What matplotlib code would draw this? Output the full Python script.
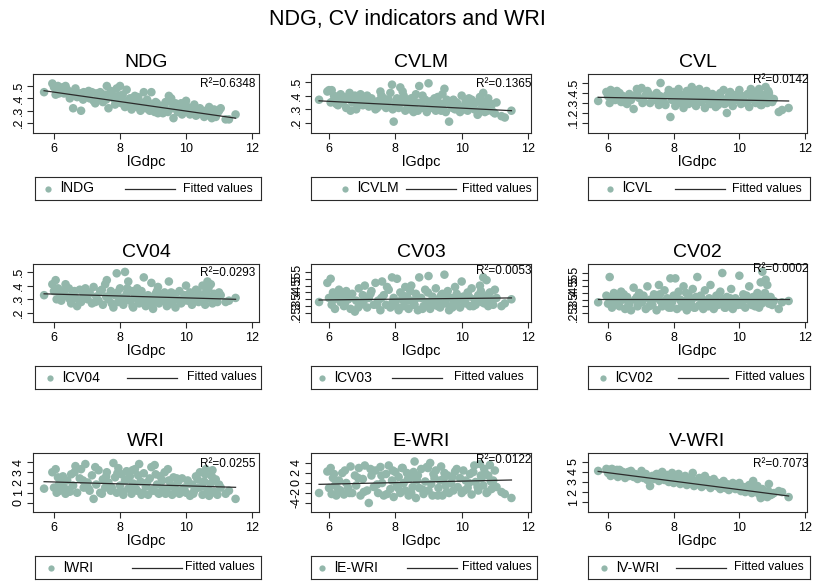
import matplotlib.pyplot as plt

plt.rcParams['font.family'] = ['Liberation Sans', 'DejaVu Sans']

# log GDP per capita, shared x for every panel
lgdpc = [5.70, 5.95, 6.00, 6.05, 6.08, 6.12, 6.18, 6.22, 6.30, 6.35,
         6.40, 6.45, 6.52, 6.58, 6.65, 6.70, 6.78, 6.82, 6.90, 6.95,
         7.02, 7.08, 7.15, 7.20, 7.28, 7.35, 7.40, 7.48, 7.55, 7.60,
         7.65, 7.72, 7.80, 7.85, 7.90, 7.95, 8.00, 8.05, 8.10, 8.15,
         8.20, 8.25, 8.30, 8.35, 8.40, 8.45, 8.52, 8.58, 8.62, 8.68,
         8.72, 8.78, 8.85, 8.90, 8.95, 9.00, 9.05, 9.12, 9.18, 9.22,
         9.30, 9.35, 9.42, 9.48, 9.52, 9.58, 9.62, 9.68, 9.75, 9.80,
         9.88, 9.95, 10.00, 10.05, 10.12, 10.18, 10.25, 10.30, 10.38, 10.42,
         10.50, 10.55, 10.60, 10.65, 10.70, 10.75, 10.80, 10.85, 10.90, 10.95,
         11.05, 11.20, 11.30, 11.50,
         6.15, 6.27, 6.48, 6.62, 6.88, 7.05, 7.25, 7.45, 7.58, 7.75,
         7.92, 8.08, 8.22, 8.38, 8.48, 8.55, 8.65, 8.82, 8.98, 9.08,
         9.15, 9.28, 9.38, 9.45, 9.55, 9.72, 9.85, 10.08, 10.22, 10.35,
         10.48, 10.58, 10.68, 10.78, 10.88, 11.00]

lndg = [.45, .52, .49, .43, .47, .50, .46, .48, .44, .50,
        .47, .43, .45, .32, .48, .41, .44, .30, .45, .42,
        .43, .40, .45, .38, .44, .41, .45, .37, .43, .50,
        .32, .46, .40, .35, .48, .42, .50, .36, .38, .33,
        .47, .35, .40, .31, .37, .42, .33, .38, .30, .35,
        .45, .32, .37, .30, .45, .34, .29, .36, .31, .33,
        .28, .35, .30, .42, .38, .32, .24, .36, .29, .34,
        .27, .31, .38, .33, .27, .30, .35, .26, .29, .32,
        .28, .25, .30, .27, .33, .26, .29, .31, .25, .28,
        .32, .23, .23, .27,
        .44, .49, .40, .46, .39, .46, .36, .42, .39, .44,
        .37, .43, .34, .40, .36, .41, .33, .39, .32, .37,
        .28, .33, .37, .29, .40, .31, .36, .29, .32, .27,
        .30, .26, .31, .24, .27, .30]

lcvlm = [.37, .43, .44, .35, .44, .36, .38, .34, .37, .41,
         .35, .39, .31, .38, .29, .35, .40, .30, .36, .41,
         .33, .37, .40, .32, .38, .35, .30, .36, .43, .33,
         .38, .31, .37, .42, .48, .21, .34, .38, .31, .46,
         .35, .40, .29, .37, .33, .30, .38, .34, .41, .29,
         .47, .35, .31, .37, .28, .49, .34, .31, .38, .29,
         .35, .32, .41, .45, .28, .36, .21, .33, .37, .30,
         .34, .28, .40, .32, .36, .29, .33, .37, .30, .35,
         .27, .39, .31, .42, .28, .35, .38, .30, .33, .28,
         .35, .25, .24, .29,
         .40, .33, .37, .42, .33, .39, .36, .31, .40, .34,
         .30, .36, .43, .32, .38, .28, .35, .40, .31, .36,
         .33, .39, .29, .34, .37, .31, .35, .30, .38, .33,
         .26, .36, .32, .29, .34, .27]

lcvl = [.32, .41, .37, .30, .43, .35, .39, .33, .36, .40,
        .31, .37, .34, .29, .39, .33, .24, .37, .41, .35,
        .45, .32, .38, .42, .30, .36, .33, .40, .28, .50,
        .35, .30, .38, .43, .16, .33, .41, .27, .36, .44,
        .31, .38, .25, .35, .42, .29, .37, .33, .40, .27,
        .36, .44, .31, .38, .25, .42, .34, .29, .39, .32,
        .36, .28, .40, .34, .43, .30, .20, .37, .32, .27,
        .38, .33, .43, .29, .36, .31, .39, .26, .34, .41,
        .30, .36, .44, .28, .38, .33, .46, .30, .40, .35,
        .34, .21, .23, .25,
        .37, .42, .31, .36, .44, .30, .39, .34, .37, .28,
        .41, .35, .30, .38, .33, .46, .29, .36, .40, .31,
        .35, .26, .38, .33, .29, .41, .35, .37, .30, .44,
        .33, .39, .28, .35, .42, .31]

lcv04 = [.33, .41, .36, .44, .30, .38, .34, .29, .36, .41,
         .32, .38, .27, .35, .31, .25, .37, .28, .33, .38,
         .30, .35, .27, .39, .32, .29, .36, .26, .41, .44,
         .30, .36, .24, .33, .49, .28, .38, .31, .26, .50,
         .34, .43, .29, .36, .24, .32, .38, .27, .34, .30,
         .46, .25, .33, .29, .42, .23, .31, .36, .27, .33,
         .29, .35, .25, .43, .31, .27, .34, .24, .30, .36,
         .28, .33, .40, .29, .35, .26, .31, .37, .28, .33,
         .40, .29, .35, .43, .31, .41, .27, .34, .30, .28,
         .33, .28, .29, .31,
         .37, .33, .30, .36, .31, .34, .28, .37, .32, .27,
         .35, .30, .38, .25, .33, .29, .36, .31, .27, .34,
         .39, .29, .32, .26, .35, .30, .27, .33, .29, .36,
         .31, .26, .38, .32, .29, .35]

lcv03 = [.33, .47, .36, .50, .31, .40, .28, .37, .42, .33,
         .38, .30, .41, .35, .28, .39, .26, .34, .43, .31,
         .38, .45, .29, .36, .41, .31, .47, .34, .27, .48,
         .38, .31, .42, .29, .51, .36, .33, .50, .27, .40,
         .35, .30, .44, .37, .28, .41, .34, .31, .39, .27,
         .51, .36, .30, .42, .33, .52, .28, .37, .31, .43,
         .35, .29, .39, .53, .32, .41, .27, .36, .31, .44,
         .34, .29, .48, .37, .32, .40, .30, .43, .35, .31,
         .38, .45, .33, .51, .36, .49, .30, .40, .34, .31,
         .36, .30, .32, .35,
         .35, .39, .32, .37, .29, .34, .39, .31, .36, .44,
         .33, .29, .38, .34, .45, .31, .36, .28, .40, .33,
         .35, .30, .38, .32, .36, .29, .39, .33, .37, .30,
         .34, .41, .32, .38, .35, .42]

lcv02 = [.33, .38, .32, .52, .36, .29, .40, .34, .38, .30,
         .41, .35, .28, .37, .32, .27, .44, .35, .30, .40,
         .33, .38, .28, .45, .35, .31, .39, .27, .46, .34,
         .30, .42, .36, .29, .51, .33, .38, .51, .28, .41,
         .35, .30, .45, .34, .27, .39, .32, .43, .29, .37,
         .52, .31, .36, .28, .42, .34, .30, .46, .33, .28,
         .38, .31, .41, .55, .35, .29, .37, .32, .43, .28,
         .36, .31, .53, .34, .39, .29, .35, .45, .31, .37,
         .33, .40, .29, .48, .56, .36, .50, .46, .32, .37,
         .34, .28, .33, .34,
         .36, .33, .39, .31, .37, .34, .30, .36, .39, .33,
         .29, .37, .34, .40, .31, .35, .29, .38, .32, .36,
         .30, .34, .39, .32, .29, .36, .33, .31, .38, .34,
         .30, .36, .32, .40, .35, .31]

lwri = [1.4, 3.0, 1.5, 3.3, 1.0, 2.5, 1.2, 2.0, 1.5, 0.9,
        2.2, 1.3, 2.8, 1.7, 3.6, 1.0, 2.4, 3.3, 1.5, 3.8,
        2.0, 1.2, 2.7, 0.4, 1.8, 3.2, 1.0, 2.3, 1.5, 3.0,
        2.0, 1.2, 3.9, 2.5, 1.0, 3.4, 1.7, 2.8, 0.8, 2.2,
        3.1, 1.4, 2.6, 0.9, 1.9, 3.3, 1.2, 3.8, 2.1, 1.0,
        2.9, 1.6, 0.8, 2.4, 3.5, 1.2, 3.7, 1.8, 0.9, 2.6,
        1.4, 3.0, 1.0, 2.2, 1.6, 0.8, 2.5, 1.3, 2.0, 0.9,
        2.4, 1.5, 1.0, 2.2, 0.7, 1.8, 1.2, 2.6, 1.5, 3.0,
        0.8, 2.1, 3.3, 1.3, 0.7, 1.9, 3.2, 1.1, 2.3, 0.8,
        1.5, 0.9, 1.2, 0.4,
        1.8, 2.6, 1.1, 3.0, 2.2, 1.4, 3.5, 0.9, 2.6, 1.5,
        2.9, 1.1, 2.3, 3.2, 1.4, 2.7, 0.8, 2.0, 1.3, 2.8,
        1.0, 2.2, 0.9, 3.3, 1.7, 2.4, 1.2, 1.9, 0.9, 2.3,
        1.6, 2.8, 1.2, 2.6, 1.0, 1.8]

lewri = [-2.0, 2.3, -1.0, 3.0, -2.2, 1.0, -0.5, -2.5, 0.5, -1.5,
         2.0, -2.3, 0.0, -1.0, 3.3, -2.0, 1.5, -0.5, 3.0, -2.5,
         0.8, 3.5, -1.5, -4.0, 1.5, -0.8, 2.5, -2.0, 3.2, 0.0,
         -2.5, 1.8, 3.5, -1.2, 0.5, -2.8, 2.2, -0.5, 1.2, -2.0,
         3.0, 0.0, -1.5, 2.0, -2.5, 1.0, -0.8, 4.3, -3.0, 1.5,
         -1.0, 2.8, -2.2, 0.3, 3.2, -1.5, 4.0, -2.5, 1.0, 2.5,
         -1.0, 0.5, -2.5, 2.0, -0.5, 1.5, -2.0, 0.0, -1.5, 2.3,
         -0.8, 1.0, -2.0, 2.5, 0.5, -1.0, 1.8, -2.3, 3.5, 0.2,
         -1.5, 3.8, 1.0, -0.5, 2.0, -2.0, 1.5, 3.6, -1.2, 0.5,
         -0.8, -1.8, -2.2, -3.0,
         1.8, -1.2, 2.5, -2.0, 1.0, -1.8, 2.8, -0.3, 1.5, -2.2,
         2.5, -1.0, 3.0, 0.8, -2.0, 2.2, 0.5, -1.3, 3.0, -0.2,
         1.8, -2.5, 3.3, 0.8, -1.8, 1.2, 2.8, -1.5, 0.0, 2.2,
         -0.8, 1.5, 2.8, -1.8, 0.3, 2.5]

lvwri = [4.1, 4.3, 3.9, 4.2, 3.6, 4.3, 3.8, 4.1, 3.5, 4.2,
         3.7, 4.0, 3.4, 3.9, 3.6, 4.1, 3.5, 3.8, 3.3, 3.7,
         4.1, 3.4, 3.8, 3.2, 2.6, 3.6, 3.3, 3.8, 3.1, 3.5,
         4.0, 3.2, 3.7, 3.0, 3.4, 3.9, 2.9, 3.6, 3.1, 3.8,
         2.8, 3.3, 3.0, 3.6, 2.7, 3.2, 2.9, 3.9, 2.6, 3.1,
         2.8, 3.4, 2.5, 3.0, 3.6, 2.7, 3.2, 2.4, 2.9, 3.3,
         2.6, 2.9, 2.3, 2.7, 3.1, 2.4, 2.8, 2.2, 2.6, 2.9,
         2.3, 2.6, 2.9, 2.1, 2.5, 2.0, 2.3, 2.7, 1.9, 3.1,
         2.2, 2.6, 1.8, 1.4, 2.3, 1.6, 2.0, 1.5, 2.8, 1.7,
         1.9, 2.1, 2.0, 1.5,
         3.9, 4.2, 3.7, 4.0, 3.6, 3.8, 3.4, 3.6, 3.8, 3.3,
         3.6, 3.3, 3.1, 3.4, 3.0, 3.3, 2.9, 3.1, 2.8, 3.0,
         2.7, 3.0, 2.5, 2.8, 2.6, 2.4, 2.7, 2.3, 2.5, 2.1,
         2.4, 2.0, 2.2, 1.9, 2.1, 1.8]

titles = ['NDG', 'CVLM', 'CVL', 'CV04', 'CV03', 'CV02', 'WRI', 'E-WRI', 'V-WRI']
series_names = ['lNDG', 'lCVLM', 'lCVL', 'lCV04', 'lCV03', 'lCV02', 'lWRI', 'lE-WRI', 'lV-WRI']
series = [lndg, lcvlm, lcvl, lcv04, lcv03, lcv02, lwri, lewri, lvwri]
r2 = ['0.6348', '0.1365', '0.0142', '0.0293', '0.0053', '0.0002', '0.0255', '0.0122', '0.7073']

# fitted values at the smallest and largest lGdpc
fit_lo = [.462, .362, .357, .340, .345, .352, 2.08, -0.27, 4.05]
fit_hi = [.240, .290, .320, .300, .360, .352, 1.53, 0.60, 1.61]

yticks = [[.2, .3, .4, .5], [.2, .3, .4, .5], [.1, .2, .3, .4, .5], [.2, .3, .4, .5],
          [.25, .3, .35, .4, .45, .5, .55], [.25, .3, .35, .4, .45, .5, .55],
          [0, 1, 2, 3, 4], [-4, -2, 0, 2, 4], [1, 2, 3, 4, 5]]
yticklabels = [['.2', '.3', '.4', '.5'], ['.2', '.3', '.4', '.5'], ['.1', '.2', '.3', '.4', '.5'],
               ['.2', '.3', '.4', '.5'],
               ['.25', '.3', '.35', '.4', '.45', '.5', '.55'], ['.25', '.3', '.35', '.4', '.45', '.5', '.55'],
               ['0', '1', '2', '3', '4'], ['-4', '-2', '0', '2', '4'], ['1', '2', '3', '4', '5']]
xticks = [6, 8, 10, 12]

# layout (pixels)
W, H = 815, 587
col_l = [33, 311, 588]
col_r = [259, 531, 807]
row_t = [74, 264, 453]
row_b = [133, 322, 512]
leg_l = [35, 311, 588]
leg_r = [261, 537, 810]
col_xlim = [(5.364, 12.21), (5.457, 12.09), (5.39, 12.06)]
ylims = [(0.12, 0.597), (0.127, 0.558), (0.0, 0.59), (0.134, 0.558), (0.184, 0.608),
         (0.182, 0.618), (-0.88, 4.88), (-5.8, 6.0), (0.02, 5.88)]
r2_y = [.516, .485, .53, .493, .557, .58, 3.8, 4.6, 4.8]
# legend key offsets inside each legend box
key_pad = [13, 34, 22, 15, 11, 15, 16, 11, 16]
key_line = [90, 95, 87, 92, 81, 90, 97, 96, 88]
fit_text_x = [148, 151, 144, 152, 143, 147, 150, 151, 146]

dot = '#93b7ab'
ink = '#2b2b2b'

fig = plt.figure(figsize=(W / 100, H / 100), dpi=100)
fig.text(0.5, 1 - 25 / H, 'NDG, CV indicators and WRI', ha='center', va='baseline', fontsize=15.5)

for i in range(9):
    r, c = divmod(i, 3)
    l, rt, t, b = col_l[c], col_r[c], row_t[r], row_b[r]
    ax = fig.add_axes([l / W, 1 - b / H, (rt - l) / W, (b - t) / H])
    ax.scatter(lgdpc, series[i], s=38, color=dot, edgecolors='none', zorder=2)
    ax.plot([min(lgdpc), max(lgdpc)], [fit_lo[i], fit_hi[i]], color=ink, lw=0.9, zorder=3)
    ax.set_xlim(col_xlim[c])
    ax.set_ylim(ylims[i])
    ax.set_xticks(xticks)
    ax.set_yticks(yticks[i])
    ax.set_yticklabels(yticklabels[i], rotation=90, va='center')
    ax.tick_params(direction='out', length=4, width=0.8, color=ink, labelsize=9, pad=2)
    ax.tick_params(axis='x', pad=3.5)
    for sp in ax.spines.values():
        sp.set_color(ink)
        sp.set_linewidth(0.8)
    ax.set_xlabel('lGdpc', fontsize=10.5, labelpad=0)
    ax.text(10.42, r2_y[i], 'R²=' + r2[i], fontsize=8.5, ha='left', va='center')
    fig.text((l + rt) / 2 / W, 1 - (t - 7) / H, titles[i], ha='center', va='baseline', fontsize=14)

    # legend box under the panel
    lt, lh = b + 44, 23
    ll, lr = leg_l[c], leg_r[c]
    lw_px = lr - ll
    lg = fig.add_axes([ll / W, 1 - (lt + lh) / H, lw_px / W, lh / H])
    lg.set_xlim(0, lw_px)
    lg.set_ylim(0, 1)
    lg.set_xticks([])
    lg.set_yticks([])
    for sp in lg.spines.values():
        sp.set_color(ink)
        sp.set_linewidth(0.8)
    kp = key_pad[i]
    lg.plot([kp], [0.5], 'o', color=dot, ms=4.5, mec='none')
    lg.text(kp + 12, 0.5, series_names[i], fontsize=10, va='center', ha='left')
    lg.plot([key_line[i], key_line[i] + 50], [0.5, 0.5], color=ink, lw=0.9)
    lg.text(fit_text_x[i], 0.5, 'Fitted values', fontsize=8.8, va='center', ha='left')

fig.savefig('out.png', dpi=100, facecolor='white')
